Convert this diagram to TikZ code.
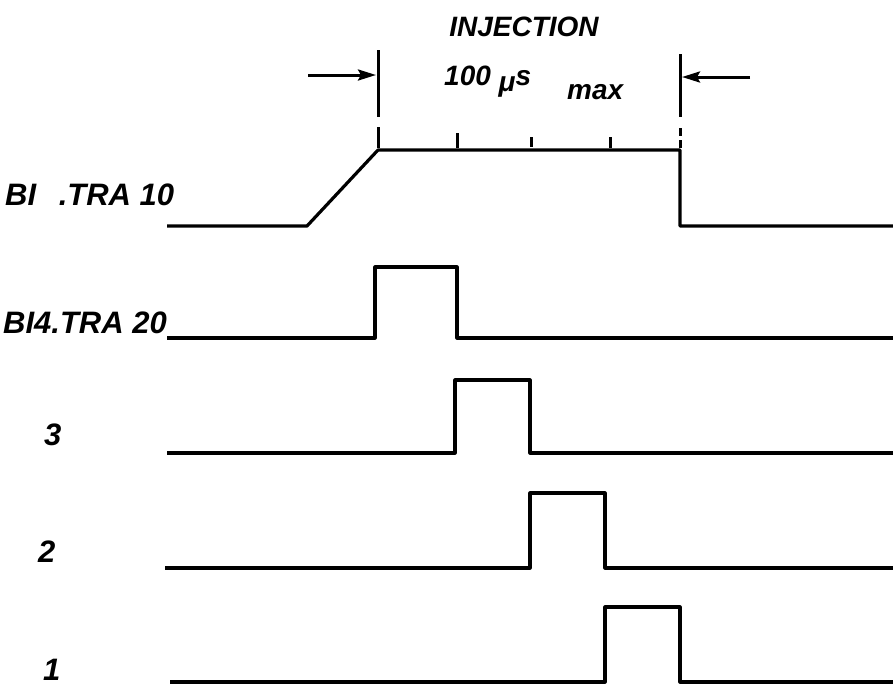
\documentclass[tikz,border=0pt]{standalone}
\usepackage{fontspec}
\setsansfont{Liberation Sans}
\usetikzlibrary{arrows.meta}
\tikzset{
  wave/.style={line width=3.2pt, line join=round},
  tickline/.style={line width=3pt},
  lbl/.style={font=\sffamily\bfseries\itshape\fontsize{31}{32}\selectfont, anchor=base west, inner sep=0pt},
  ttl/.style={font=\sffamily\bfseries\itshape\fontsize{28}{30}\selectfont, inner sep=0pt}
}
\begin{document}
\begin{tikzpicture}[x=1pt,y=-1pt]
\useasboundingbox (0,0) rectangle (893,686);
% signal names
\node[lbl] (s10) at (5,205) {BI\hspace{14pt} .TRA 10};
\node[lbl] (s20) at (3,333) {BI4.TRA 20};
\node[lbl] (s3) at (44,445) {3};
\node[lbl] (s2) at (38,562) {2};
\node[lbl] (s1) at (43,680) {1};
% waveforms
\draw[wave] (167,226) -- (307,226) -- (378,150) -- (680,150) -- (680,226) -- (893,226);
\draw[wave] (167,338) -- (375,338) -- (375,267) -- (457,267) -- (457,338) -- (893,338);
\draw[wave] (167,453) -- (455,453) -- (455,380) -- (530,380) -- (530,453) -- (893,453);
\draw[wave] (165,568) -- (530,568) -- (530,493) -- (605,493) -- (605,568) -- (893,568);
\draw[wave] (170,682) -- (605,682) -- (605,607) -- (680,607) -- (680,682) -- (893,682);
% time scale
\draw[tickline] (378,127) -- (378,148);
\draw[tickline] (457,133) -- (457,148);
\draw[tickline] (531,137) -- (531,147);
\draw[tickline] (610,137) -- (610,148);
\draw[tickline] (680,128) -- (680,136) (680,140) -- (680,148);
% injection window
\coordinate (wl) at (378,50);
\coordinate (wr) at (680,54);
\draw[tickline] (wl) -- (378,117);
\draw[tickline] (wr) -- (680,117);
\coordinate (al) at (308,75);
\coordinate (ar) at (750,77);
\draw[tickline, -{Stealth[length=18pt,width=11pt,inset=3pt]}] (al) -- (376,75);
\draw[tickline, -{Stealth[length=18pt,width=11pt,inset=3pt]}] (ar) -- (682,77);
\node[ttl] (inj) at (524,27) {INJECTION};
\node[ttl, anchor=base west] (dur) at (444,85) {100 \raisebox{-6pt}{μ}s};
\node[ttl, anchor=base west] (mx) at (567,99) {max};
\end{tikzpicture}
\end{document}
